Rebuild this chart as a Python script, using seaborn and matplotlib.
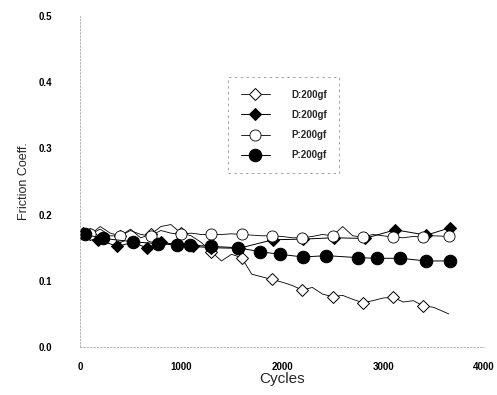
import numpy as np
import pandas as pd
import matplotlib
matplotlib.use('Agg')
import matplotlib.pyplot as plt
import seaborn as sns

# D:200gf, open diamonds (dense trace, markers every 3rd point)
d_open_cycles = [0, 100, 200, 300, 400, 500, 600, 700, 800, 900, 1000, 1100, 1200,
                 1300, 1400, 1500, 1600, 1700, 1800, 1900, 2000, 2100, 2200, 2300,
                 2400, 2500, 2600, 2700, 2800, 2900, 3000, 3100, 3200, 3300, 3400,
                 3500, 3650]
d_open_mu = [0.175, 0.170, 0.182, 0.172, 0.168, 0.178, 0.165, 0.170, 0.182, 0.185,
             0.172, 0.168, 0.158, 0.144, 0.130, 0.140, 0.135, 0.110, 0.106, 0.102,
             0.098, 0.093, 0.086, 0.090, 0.080, 0.076, 0.078, 0.072, 0.067, 0.070,
             0.074, 0.075, 0.068, 0.070, 0.062, 0.060, 0.050]

# P:200gf, open circles (dense trace)
p_open_cycles = d_open_cycles
p_open_mu = [0.172, 0.170, 0.178, 0.168, 0.168, 0.176, 0.170, 0.168, 0.176, 0.172,
             0.170, 0.172, 0.170, 0.170, 0.170, 0.171, 0.170, 0.169, 0.168, 0.168,
             0.167, 0.165, 0.165, 0.167, 0.170, 0.168, 0.182, 0.168, 0.166, 0.170,
             0.168, 0.166, 0.165, 0.167, 0.166, 0.168, 0.167]

# D:200gf, filled diamonds
d_fill_cycles = [30, 180, 370, 520, 660, 800, 960, 1120, 1300, 1570, 1910, 2210,
                 2510, 2820, 3120, 3430, 3660]
d_fill_mu = [0.172, 0.162, 0.152, 0.158, 0.150, 0.158, 0.155, 0.152, 0.150, 0.149,
             0.162, 0.163, 0.165, 0.164, 0.177, 0.169, 0.180]

# P:200gf, filled circles
p_fill_cycles = [50, 230, 525, 770, 960, 1090, 1300, 1560, 1780, 1980, 2210, 2440,
                 2750, 2940, 3170, 3430, 3660]
p_fill_mu = [0.170, 0.164, 0.159, 0.156, 0.154, 0.154, 0.152, 0.150, 0.144, 0.140,
             0.136, 0.138, 0.135, 0.134, 0.134, 0.130, 0.130]

labels = ['D:200gf', 'D:200gf', 'P:200gf', 'P:200gf']

sns.set_theme(style='white')
plt.rcParams['font.family'] = ['Liberation Sans', 'DejaVu Sans']

fig = plt.figure(figsize=(4.97, 3.95), dpi=100)
ax = fig.add_axes([0.161, 0.1215, 0.813, 0.838])

marks_open = list(range(1, 36, 3))
sns.lineplot(x=d_open_cycles, y=d_open_mu, ax=ax, color='black', lw=0.6,
             marker='D', ms=6, mfc='white', mec='black', mew=0.7,
             markevery=marks_open, estimator=None, sort=False, label=labels[0])
sns.lineplot(x=d_fill_cycles, y=d_fill_mu, ax=ax, color='black', lw=0.7,
             marker='D', ms=6.5, mfc='black', mec='black',
             estimator=None, sort=False, label=labels[1])
sns.lineplot(x=p_open_cycles, y=p_open_mu, ax=ax, color='black', lw=0.6,
             marker='o', ms=8, mfc='white', mec='black', mew=0.6,
             markevery=marks_open + [36], estimator=None, sort=False, label=labels[2])
sns.lineplot(x=p_fill_cycles, y=p_fill_mu, ax=ax, color='black', lw=0.7,
             marker='o', ms=9, mfc='black', mec='black',
             estimator=None, sort=False, label=labels[3])

ax.set_xlim(0, 4000)
ax.set_ylim(0, 0.5)
ax.set_xticks([0, 1000, 2000, 3000, 4000])
ax.set_yticks([0.0, 0.1, 0.2, 0.3, 0.4, 0.5])
ax.set_yticklabels(['0.0', '0.1', '0.2', '0.3', '0.4', '0.5'])
ax.tick_params(labelsize=7, length=3, width=0.5, colors='#999999', labelcolor='black')
ax.tick_params(axis='x', pad=8)
ax.tick_params(axis='y', pad=17)
for t in ax.get_xticklabels() + ax.get_yticklabels():
    t.set_fontweight('bold')

for side in ['top', 'right']:
    ax.spines[side].set_visible(False)
for side in ['left', 'bottom']:
    ax.spines[side].set_color('#aaaaaa')
    ax.spines[side].set_linewidth(0.6)
    ax.spines[side].set_linestyle((0, (2, 2)))

ax.set_xlabel('Cycles', fontsize=11, labelpad=0)
ax.set_ylabel('Friction Coeff.', fontsize=9, labelpad=6)

leg = ax.legend(loc='upper left', bbox_to_anchor=(0.366, 0.816), fontsize=7,
                frameon=True, fancybox=False, handlelength=3, borderpad=1.3,
                labelspacing=1.05, handletextpad=2.2, borderaxespad=0)
leg.get_frame().set_edgecolor('#777777')
leg.get_frame().set_linestyle((0, (3, 4)))
leg.get_frame().set_linewidth(0.6)
for t in leg.get_texts():
    t.set_fontweight('bold')

fig.savefig('out.png', dpi=100)
